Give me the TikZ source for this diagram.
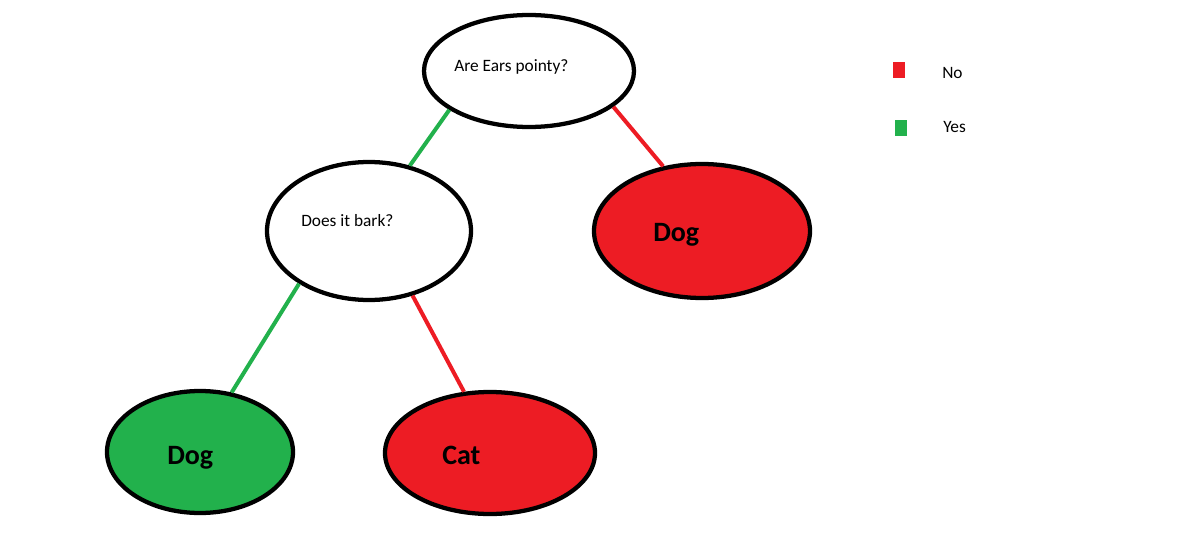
\documentclass[tikz,border=0pt]{standalone}
\usepackage{fontspec}
\setmainfont{Carlito}
\usetikzlibrary{shapes.geometric}
\definecolor{paintred}{HTML}{ED1C24}
\definecolor{paintgreen}{HTML}{22B14C}

\begin{document}
\begin{tikzpicture}[x=0.75pt,y=-0.75pt,
    blob/.style={ellipse,draw=black,line width=3.2pt,inner sep=0pt},
    txt/.style={anchor=west,inner sep=0pt,font=\fontsize{13}{15}\selectfont},
    big/.style={anchor=west,inner sep=0pt,font=\fontsize{21}{25}\selectfont\bfseries},
    yes/.style={draw=paintgreen,line width=3pt},
    no/.style={draw=paintred,line width=3pt},
    key/.style={inner sep=0pt,minimum width=9pt,minimum height=12pt}]
      \useasboundingbox (0,0) rectangle (1178,546);

      \node[blob,fill=white,minimum width=157.5pt,minimum height=84pt] (ears) at (529,71) {};
      \node[blob,fill=white,minimum width=153pt,minimum height=103.5pt] (bark) at (369,231) {};
      \node[blob,fill=paintred,minimum width=162pt,minimum height=100.5pt] (dog1) at (702,231) {};
      \node[blob,fill=paintgreen,minimum width=139.5pt,minimum height=91.5pt] (dog2) at (200,452) {};
      \node[blob,fill=paintred,minimum width=157.5pt,minimum height=91.5pt] (cat) at (490,453) {};

      \node[txt] (earst) at (454,67) {Are Ears pointy?};
      \node[txt] (barkt) at (301,221) {Does it bark?};
      \node[big] (dog1t) at (653,235) {Dog};
      \node[big] (dog2t) at (167,458) {Dog};
      \node[big] (catt) at (442,455) {Cat};

      \draw[yes] (ears.206) -- (bark.58);
      \draw[no] (ears.337) -- (dog1.121);
      \draw[yes] (bark.217) -- (dog2.62);
      \draw[no] (bark.304) -- (cat.113);

      % legend
      \node[key,fill=paintred] (nokey) at (899,70) {};
      \node[key,fill=paintgreen] (yeskey) at (901,128) {};
      \node[txt] (not) at (942,73) {No};
      \node[txt] (yest) at (943,127) {Yes};
    \end{tikzpicture}
\end{document}
